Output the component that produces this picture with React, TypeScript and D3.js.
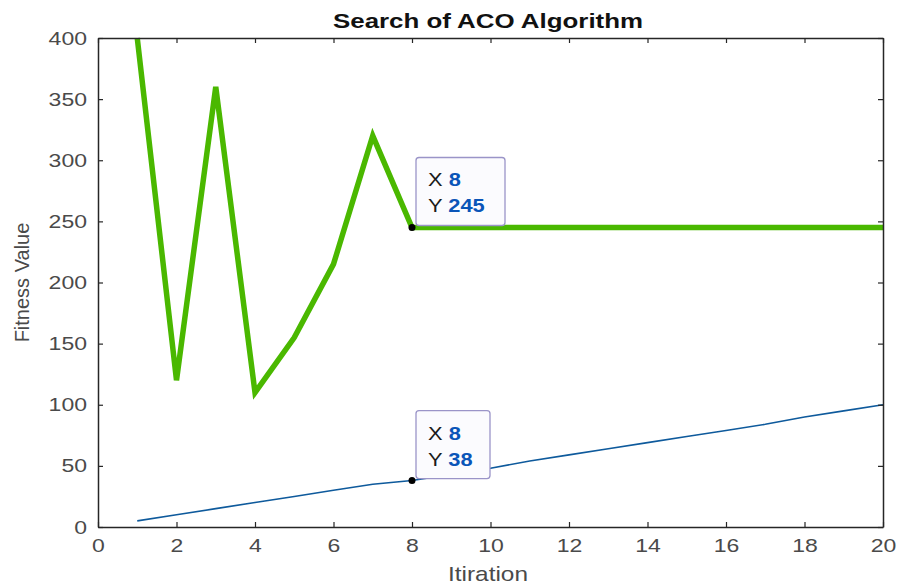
import React, { useEffect, useRef } from "react";
import * as d3 from "d3";

const iterations = [1, 2, 3, 4, 5, 6, 7, 8, 9, 10, 11, 12, 13, 14, 15, 16, 17, 18, 19, 20];
const fitnessACO = [400, 120, 360, 110, 155, 215, 320, 245, 245, 245, 245, 245, 245, 245, 245, 245, 245, 245, 245, 245];
const fitnessLow = [5, 10, 15, 20, 25, 30, 35, 38, 43, 48, 54, 59, 64, 69, 74, 79, 84, 90, 95, 100];
const xTicks = [0, 2, 4, 6, 8, 10, 12, 14, 16, 18, 20];
const yTicks = [0, 50, 100, 150, 200, 250, 300, 350, 400];
const tips = [
  { x: 8, y: 245, series: "aco" },
  { x: 8, y: 38, series: "low" },
];

const W = 899;
const H = 586;
const margin = { top: 38, right: 16, bottom: 59, left: 98 };
const FONT = "Arial, 'Liberation Sans', sans-serif";

export default function App() {
  const svgRef = useRef<SVGSVGElement>(null);

  useEffect(() => {
    const svg = d3.select(svgRef.current);
    svg.selectAll("*").remove();

    const x = d3.scaleLinear().domain([0, 20]).range([margin.left, W - margin.right]);
    const y = d3.scaleLinear().domain([0, 400]).range([H - margin.bottom, margin.top]);
    const x0 = x(0), x1 = x(20), y0 = y(0), y1 = y(400);

    const clip = svg.append("clipPath").attr("id", "plot-clip");
    clip.append("rect").attr("x", x0).attr("y", y1 - 3).attr("width", x1 - x0).attr("height", y0 - y1 + 3);

    const lineGen = d3
      .line<number>()
      .x((_, i) => x(iterations[i]))
      .y((d) => y(d));

    svg
      .append("path")
      .datum(fitnessLow)
      .attr("d", lineGen)
      .attr("fill", "none")
      .attr("stroke", "#0e5a9c")
      .attr("stroke-width", 1.6);

    svg
      .append("path")
      .datum(fitnessACO)
      .attr("d", lineGen)
      .attr("clip-path", "url(#plot-clip)")
      .attr("fill", "none")
      .attr("stroke", "#4ab800")
      .attr("stroke-width", 5.5)
      .attr("stroke-linejoin", "miter");

    // axes box, ticks point inward
    const axisColor = "#262626";
    const bottom = svg.append("g").attr("transform", `translate(0,${y0})`).call(d3.axisBottom(x).tickValues(xTicks).tickSizeInner(-5).tickSizeOuter(0).tickPadding(12));
    const top = svg.append("g").attr("transform", `translate(0,${y1})`).call(d3.axisTop(x).tickValues(xTicks).tickSizeInner(-5).tickSizeOuter(0).tickFormat(() => ""));
    const left = svg.append("g").attr("transform", `translate(${x0},0)`).call(d3.axisLeft(y).tickValues(yTicks).tickSizeInner(-5).tickSizeOuter(0).tickPadding(11));
    const right = svg.append("g").attr("transform", `translate(${x1},0)`).call(d3.axisRight(y).tickValues(yTicks).tickSizeInner(-5).tickSizeOuter(0).tickFormat(() => ""));
    [bottom, top, left, right].forEach((g) => {
      g.select(".domain").attr("stroke", axisColor).attr("stroke-width", 1.5);
      g.selectAll(".tick line").attr("stroke", axisColor).attr("stroke-width", 1.2);
      g.selectAll<SVGTextElement, number>(".tick text")
        .attr("fill", "#4a4a4a")
        .attr("font-size", 19)
        .attr("font-family", FONT)
        .attr("textLength", (d) => String(d).length * 12.8)
        .attr("lengthAdjust", "spacingAndGlyphs");
    });

    // data tips
    tips.forEach((t) => {
      const px = x(t.x);
      const py = y(t.y);
      const bx = px + 4;
      const by = py - 70;
      const bw = t.series === "aco" ? 89 : 74;
      const g = svg.append("g");
      g.append("rect")
        .attr("x", bx)
        .attr("y", by)
        .attr("width", bw)
        .attr("height", 68)
        .attr("rx", 3)
        .attr("fill", "#fbfbfe")
        .attr("stroke", "#9a94c8")
        .attr("stroke-width", 1.3);
      const lines = [
        ["X", String(t.x)],
        ["Y", String(t.y)],
      ];
      lines.forEach((l, i) => {
        const txt = g
          .append("text")
          .attr("transform", `translate(${bx + 12},${by + 29 + i * 26}) scale(1.15,1)`)
          .attr("font-family", FONT)
          .attr("font-size", 19);
        txt.append("tspan").attr("fill", "#1a1a1a").text(l[0] + " ");
        txt.append("tspan").attr("fill", "#0a55b8").attr("font-weight", "bold").text(l[1]);
      });
      g.append("circle").attr("cx", px).attr("cy", py).attr("r", 3.5).attr("fill", "#000");
    });

    svg
      .append("text")
      .attr("x", 488)
      .attr("y", 28)
      .attr("text-anchor", "middle")
      .attr("font-family", FONT)
      .attr("font-weight", "bold")
      .attr("font-size", 20)
      .attr("fill", "#111")
      .attr("textLength", 310)
      .attr("lengthAdjust", "spacingAndGlyphs")
      .text("Search of ACO Algorithm");

    svg
      .append("text")
      .attr("x", 488)
      .attr("y", 581)
      .attr("text-anchor", "middle")
      .attr("font-family", FONT)
      .attr("font-size", 21)
      .attr("fill", "#4a4a4a")
      .attr("textLength", 80)
      .attr("lengthAdjust", "spacingAndGlyphs")
      .text("Itiration");

    svg
      .append("text")
      .attr("transform", `translate(29,${(y0 + y1) / 2}) rotate(-90)`)
      .attr("text-anchor", "middle")
      .attr("font-family", FONT)
      .attr("font-size", 20)
      .attr("fill", "#4a4a4a")
      .text("Fitness Value");
  }, []);

  return (
    <svg
      ref={svgRef}
      width={W}
      height={H}
      style={{ position: "absolute", left: 0, top: 0, background: "#fff" }}
    />
  );
}
